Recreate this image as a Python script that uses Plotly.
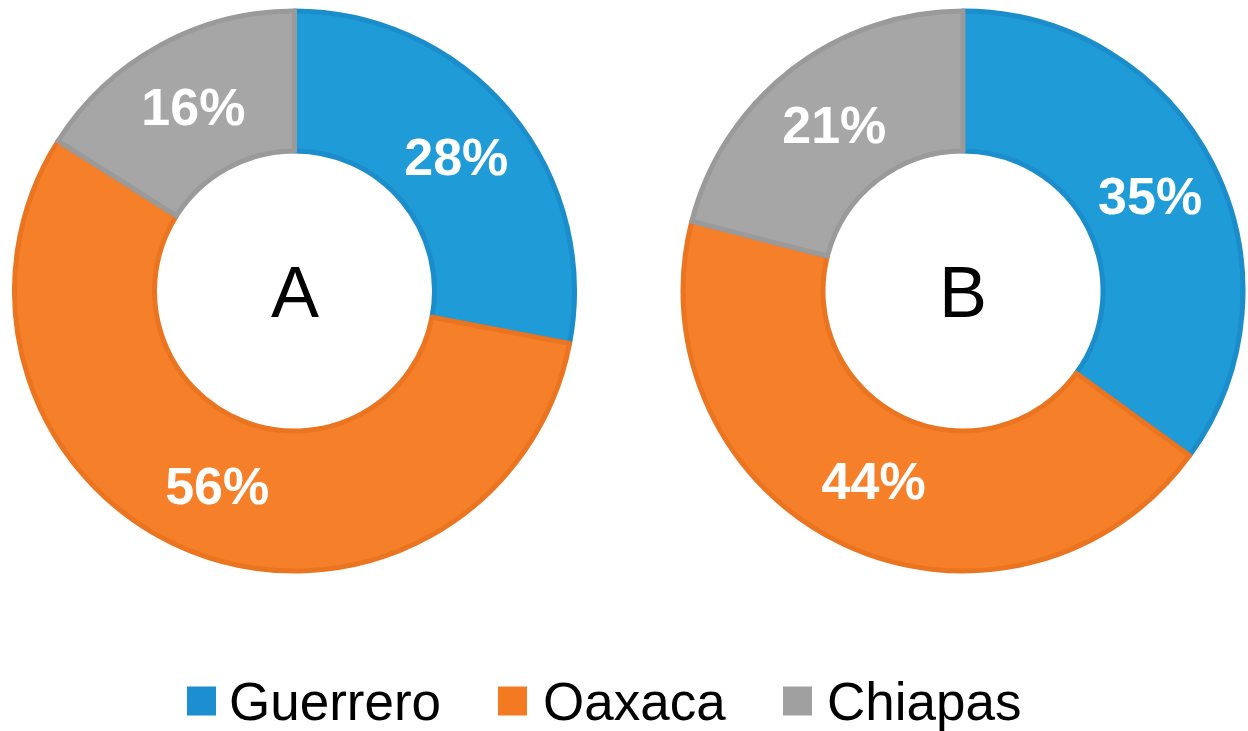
import plotly.graph_objects as go

# ---- data ----
categories = ["Guerrero", "Oaxaca", "Chiapas"]
values_a = [28, 56, 16]
values_b = [35, 44, 21]
chart_titles = ["A", "B"]

fill_colors = ["#1f9bd8", "#f6802a", "#a6a6a6"]
edge_colors = ["#1b8dcb", "#ea7420", "#9a9a9a"]
legend_colors = ["#1b8fcf", "#f47a22", "#a0a0a0"]

W, H = 1248, 731
FONT = "Liberation Sans, Arial, sans-serif"

def px_x(x):
    return x / W

def px_y(y):
    return 1 - y / H

domains = [
    dict(x=[px_x(14), px_x(575)], y=[px_y(571), px_y(11)]),
    dict(x=[px_x(683), px_x(1243)], y=[px_y(571), px_y(11)]),
]

fig = go.Figure()
for vals, dom in zip([values_a, values_b], domains):
    fig.add_trace(go.Pie(
        labels=categories,
        values=vals,
        hole=0.5,
        sort=False,
        direction="clockwise",
        rotation=0,
        domain=dom,
        marker=dict(colors=fill_colors, line=dict(color=edge_colors, width=5)),
        texttemplate="<b>%{value}%</b>",
        textposition="inside",
        insidetextorientation="horizontal",
        insidetextfont=dict(color="white", size=52, family=FONT),
        showlegend=False,
        hoverinfo="label+percent",
    ))

annotations = []
centers = [(294.5, 292), (962.5, 292)]
for title, (cx, cy) in zip(chart_titles, centers):
    annotations.append(dict(
        x=px_x(cx), y=px_y(cy), xref="paper", yref="paper",
        text=title, showarrow=False, xanchor="center", yanchor="middle",
        font=dict(size=72, color="black", family=FONT),
    ))

# custom legend (large square swatches)
legend_sq_x = [187, 498, 783]
legend_txt_x = [227, 541, 825]
sq_size = 29
legend_cy = 701
shapes = []
for cat, col, sx, tx in zip(categories, legend_colors, legend_sq_x, legend_txt_x):
    shapes.append(dict(
        type="rect", xref="paper", yref="paper",
        x0=px_x(sx), x1=px_x(sx + sq_size),
        y0=px_y(legend_cy + sq_size / 2), y1=px_y(legend_cy - sq_size / 2),
        fillcolor=col, line=dict(width=0),
    ))
    annotations.append(dict(
        x=px_x(tx), y=px_y(legend_cy), xref="paper", yref="paper",
        text=cat, showarrow=False, xanchor="left", yanchor="middle",
        font=dict(size=53, color="black", family=FONT),
    ))

fig.update_layout(
    width=W, height=H,
    margin=dict(l=0, r=0, t=0, b=0),
    paper_bgcolor="white",
    plot_bgcolor="white",
    annotations=annotations,
    shapes=shapes,
    showlegend=False,
)

fig.write_html(
    "out.html",
    config={"displayModeBar": False},
    post_script="document.body.style.margin='0';document.body.style.overflow='hidden';",
)
